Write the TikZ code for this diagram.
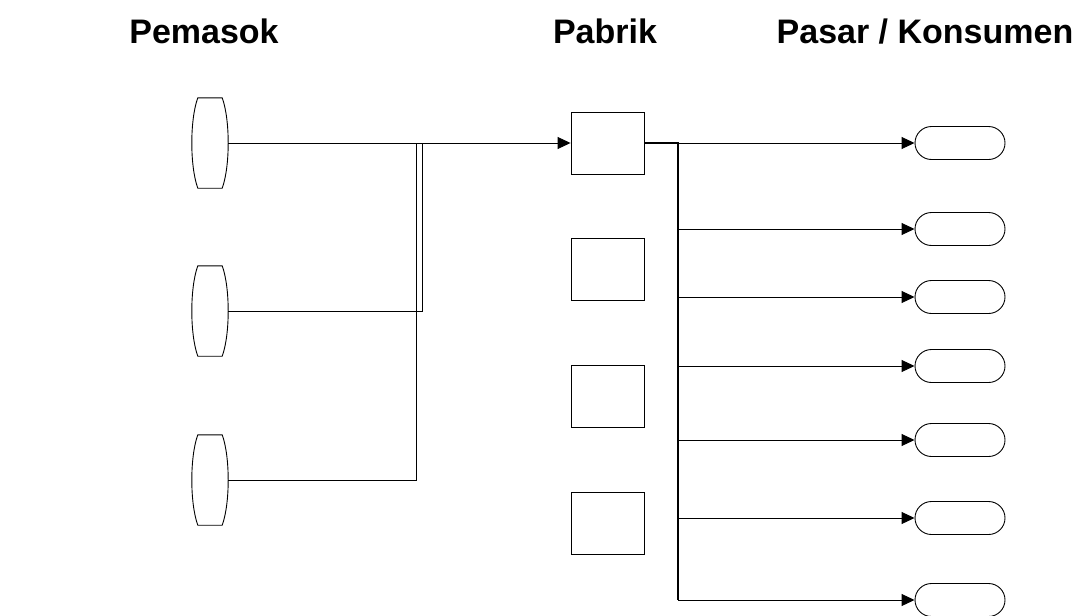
\documentclass[tikz,border=0pt]{standalone}
\usepackage{fontspec}
\setmainfont{Liberation Sans}
\usetikzlibrary{arrows.meta,shapes.misc,calc}
\begin{document}
\begin{tikzpicture}[x=1pt,y=-1pt,
  line/.style={draw=black,line width=0.9pt},
  trunk/.style={draw=black,line width=1.5pt},
  arr/.style={line,-{Triangle[length=13pt,width=12pt]}},
  factory/.style={draw,line width=0.9pt,minimum width=73pt,minimum height=62pt,inner sep=0pt},
  market/.style={draw,rounded rectangle,line width=0.9pt,minimum width=90pt,minimum height=33pt,inner sep=0pt},
  supplier/.style={minimum width=36pt,minimum height=90pt,inner sep=0pt},
  title/.style={font=\bfseries\fontsize{34}{40}\selectfont,anchor=base,inner sep=0pt}]
\useasboundingbox[fill=white] (0,0) rectangle (1088,616);

% titles
\node[title] (tp) at (204,43) {Pemasok};
\node[title] (tf) at (605,43) {Pabrik};
\node[title] (tk) at (925,43) {Pasar / Konsumen};

% suppliers
\node[supplier] (s1) at (210,143) {};
\node[supplier] (s2) at (210,311) {};
\node[supplier] (s3) at (210,480) {};
\foreach \s in {s1,s2,s3}{
  \draw[line] ($(\s.north west)+(6,0)$) -- ($(\s.north east)+(-6,0)$)
    .. controls ($(\s.north east)+(2,22)$) and ($(\s.south east)+(2,-22)$) .. ($(\s.south east)+(-6,0)$)
    -- ($(\s.south west)+(6,0)$)
    .. controls ($(\s.south west)+(-2,-22)$) and ($(\s.north west)+(-2,22)$) .. cycle;
}

% factories
\node[factory] (f1) at (607.5,143) {};
\node[factory] (f2) at (607.5,269) {};
\node[factory] (f3) at (607.5,396) {};
\node[factory] (f4) at (607.5,523) {};

% markets
\node[market] (m1) at (960,143) {};
\node[market] (m2) at (960,229) {};
\node[market] (m3) at (960,297) {};
\node[market] (m4) at (960,366) {};
\node[market] (m5) at (960,440) {};
\node[market] (m6) at (960,518) {};
\node[market] (m7) at (960,600) {};

% junctions
\coordinate (j2) at (422,143);
\coordinate (j3) at (416,143);
\coordinate (t) at (678,143);

% connectors
\draw[arr] (s1.east) -- (f1.west);
\draw[line] (s2.east) -| (j2);
\draw[line] (s3.east) -| (j3);
\draw[trunk] (f1.east) -- (t) -- (t |- m7.west);
\foreach \i in {1,...,7}{
  \draw[arr] (t |- m\i.west) -- (m\i.west);
}
\end{tikzpicture}
\end{document}
